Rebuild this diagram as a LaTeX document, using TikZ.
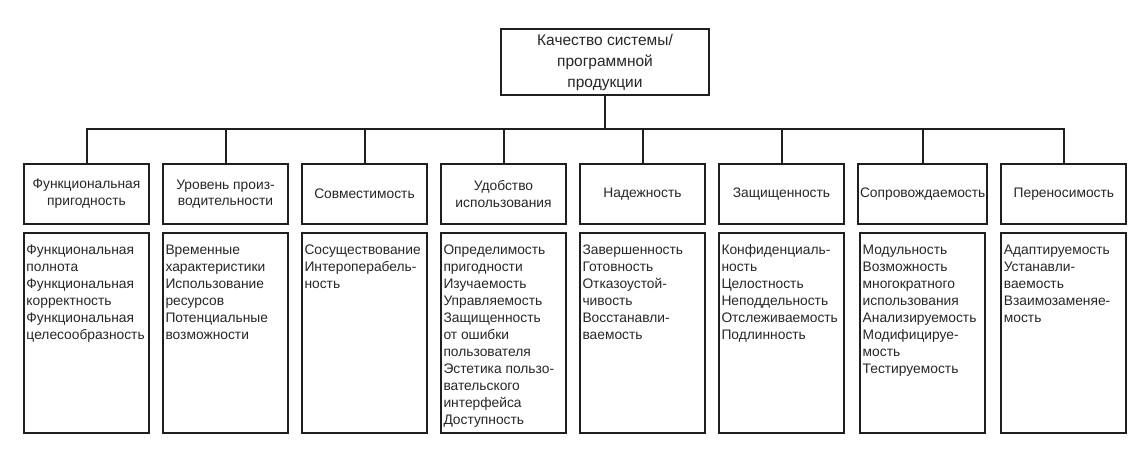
\documentclass[tikz,border=0pt]{standalone}
\usepackage{fontspec}
\setmainfont{Liberation Sans}
\usepackage{xcolor}
\usepackage{tikz}
\usetikzlibrary{positioning}
\definecolor{edge}{HTML}{1F1F1F}
\definecolor{ink}{HTML}{262626}
\newcommand{\attrlist}[1]{\parbox[c][194pt][t]{120pt}{\raggedright\fontsize{13.8}{17}\selectfont\rule{0pt}{18pt}#1}}

\begin{document}
\begin{tikzpicture}[
  font=\fontsize{13.8}{16.7}\selectfont,
  text=ink,
  root/.style={draw=edge,line width=2pt,minimum width=208pt,minimum height=66pt,inner sep=2pt,align=center,font=\fontsize{15.5}{21}\selectfont},
  head/.style={draw=edge,line width=2pt,minimum width=125pt,minimum height=60pt,inner sep=2pt,align=center},
  body/.style={draw=edge,line width=2pt,inner xsep=2.5pt,inner ysep=3pt},
  link/.style={edge,line width=2pt}
]
\useasboundingbox (0,0) rectangle (1146pt,-465pt);
\node[root] (qual) at (605pt,-62pt) {Качество системы/\\программной\\продукции};
\coordinate (bus) at (0,-129pt);
% characteristics
\node[head] (func) at (86.5pt,-194pt) {Функциональная\\пригодность};
\node[head,right=12pt of func] (perf) {Уровень произ-\\водительности};
\node[head,right=12pt of perf] (comp) {Совместимость};
\node[head,right=12pt of comp] (usab) {Удобство\\использования};
\node[head,right=12pt of usab] (reli) {Надежность};
\node[head,right=12pt of reli] (secu) {Защищенность};
\node[head,right=12pt of secu] (main) {Сопровождаемость};
\node[head,right=12pt of main] (port) {Переносимость};
% subcharacteristics
\node[body,below=7pt of func] (funcs) {\attrlist{Функциональная\\полнота\\Функциональная\\корректность\\Функциональная\\целесообразность}};
\node[body,below=7pt of perf] (perfs) {\attrlist{Временные\\характеристики\\Использование\\ресурсов\\Потенциальные\\возможности}};
\node[body,below=7pt of comp] (comps) {\attrlist{Сосуществование\\Интероперабель-\\ность}};
\node[body,below=7pt of usab] (usabs) {\attrlist{Определимость\\пригодности\\Изучаемость\\Управляемость\\Защищенность\\от ошибки\\пользователя\\Эстетика пользо-\\вательского\\интерфейса\\Доступность}};
\node[body,below=7pt of reli] (relis) {\attrlist{Завершенность\\Готовность\\Отказоустой-\\чивость\\Восстанавли-\\ваемость}};
\node[body,below=7pt of secu] (secus) {\attrlist{Конфиденциаль-\\ность\\Целостность\\Неподдельность\\Отслеживаемость\\Подлинность}};
\node[body,below=7pt of main] (mains) {\attrlist{Модульность\\Возможность\\многократного\\использования\\Анализируемость\\Модифицируе-\\мость\\Тестируемость}};
\node[body,below=7pt of port] (ports) {\attrlist{Адаптируемость\\Устанавли-\\ваемость\\Взаимозаменяе-\\мость}};
% tree
\draw[link] (qual.south) -- (qual.south |- bus);
\draw[link] (func.north) -- (func.north |- bus) -- (port.north |- bus) -- (port.north);
\draw[link] (perf.north) -- (perf.north |- bus);
\draw[link] (comp.north) -- (comp.north |- bus);
\draw[link] (usab.north) -- (usab.north |- bus);
\draw[link] (reli.north) -- (reli.north |- bus);
\draw[link] (secu.north) -- (secu.north |- bus);
\draw[link] (main.north) -- (main.north |- bus);
\end{tikzpicture}
\end{document}
